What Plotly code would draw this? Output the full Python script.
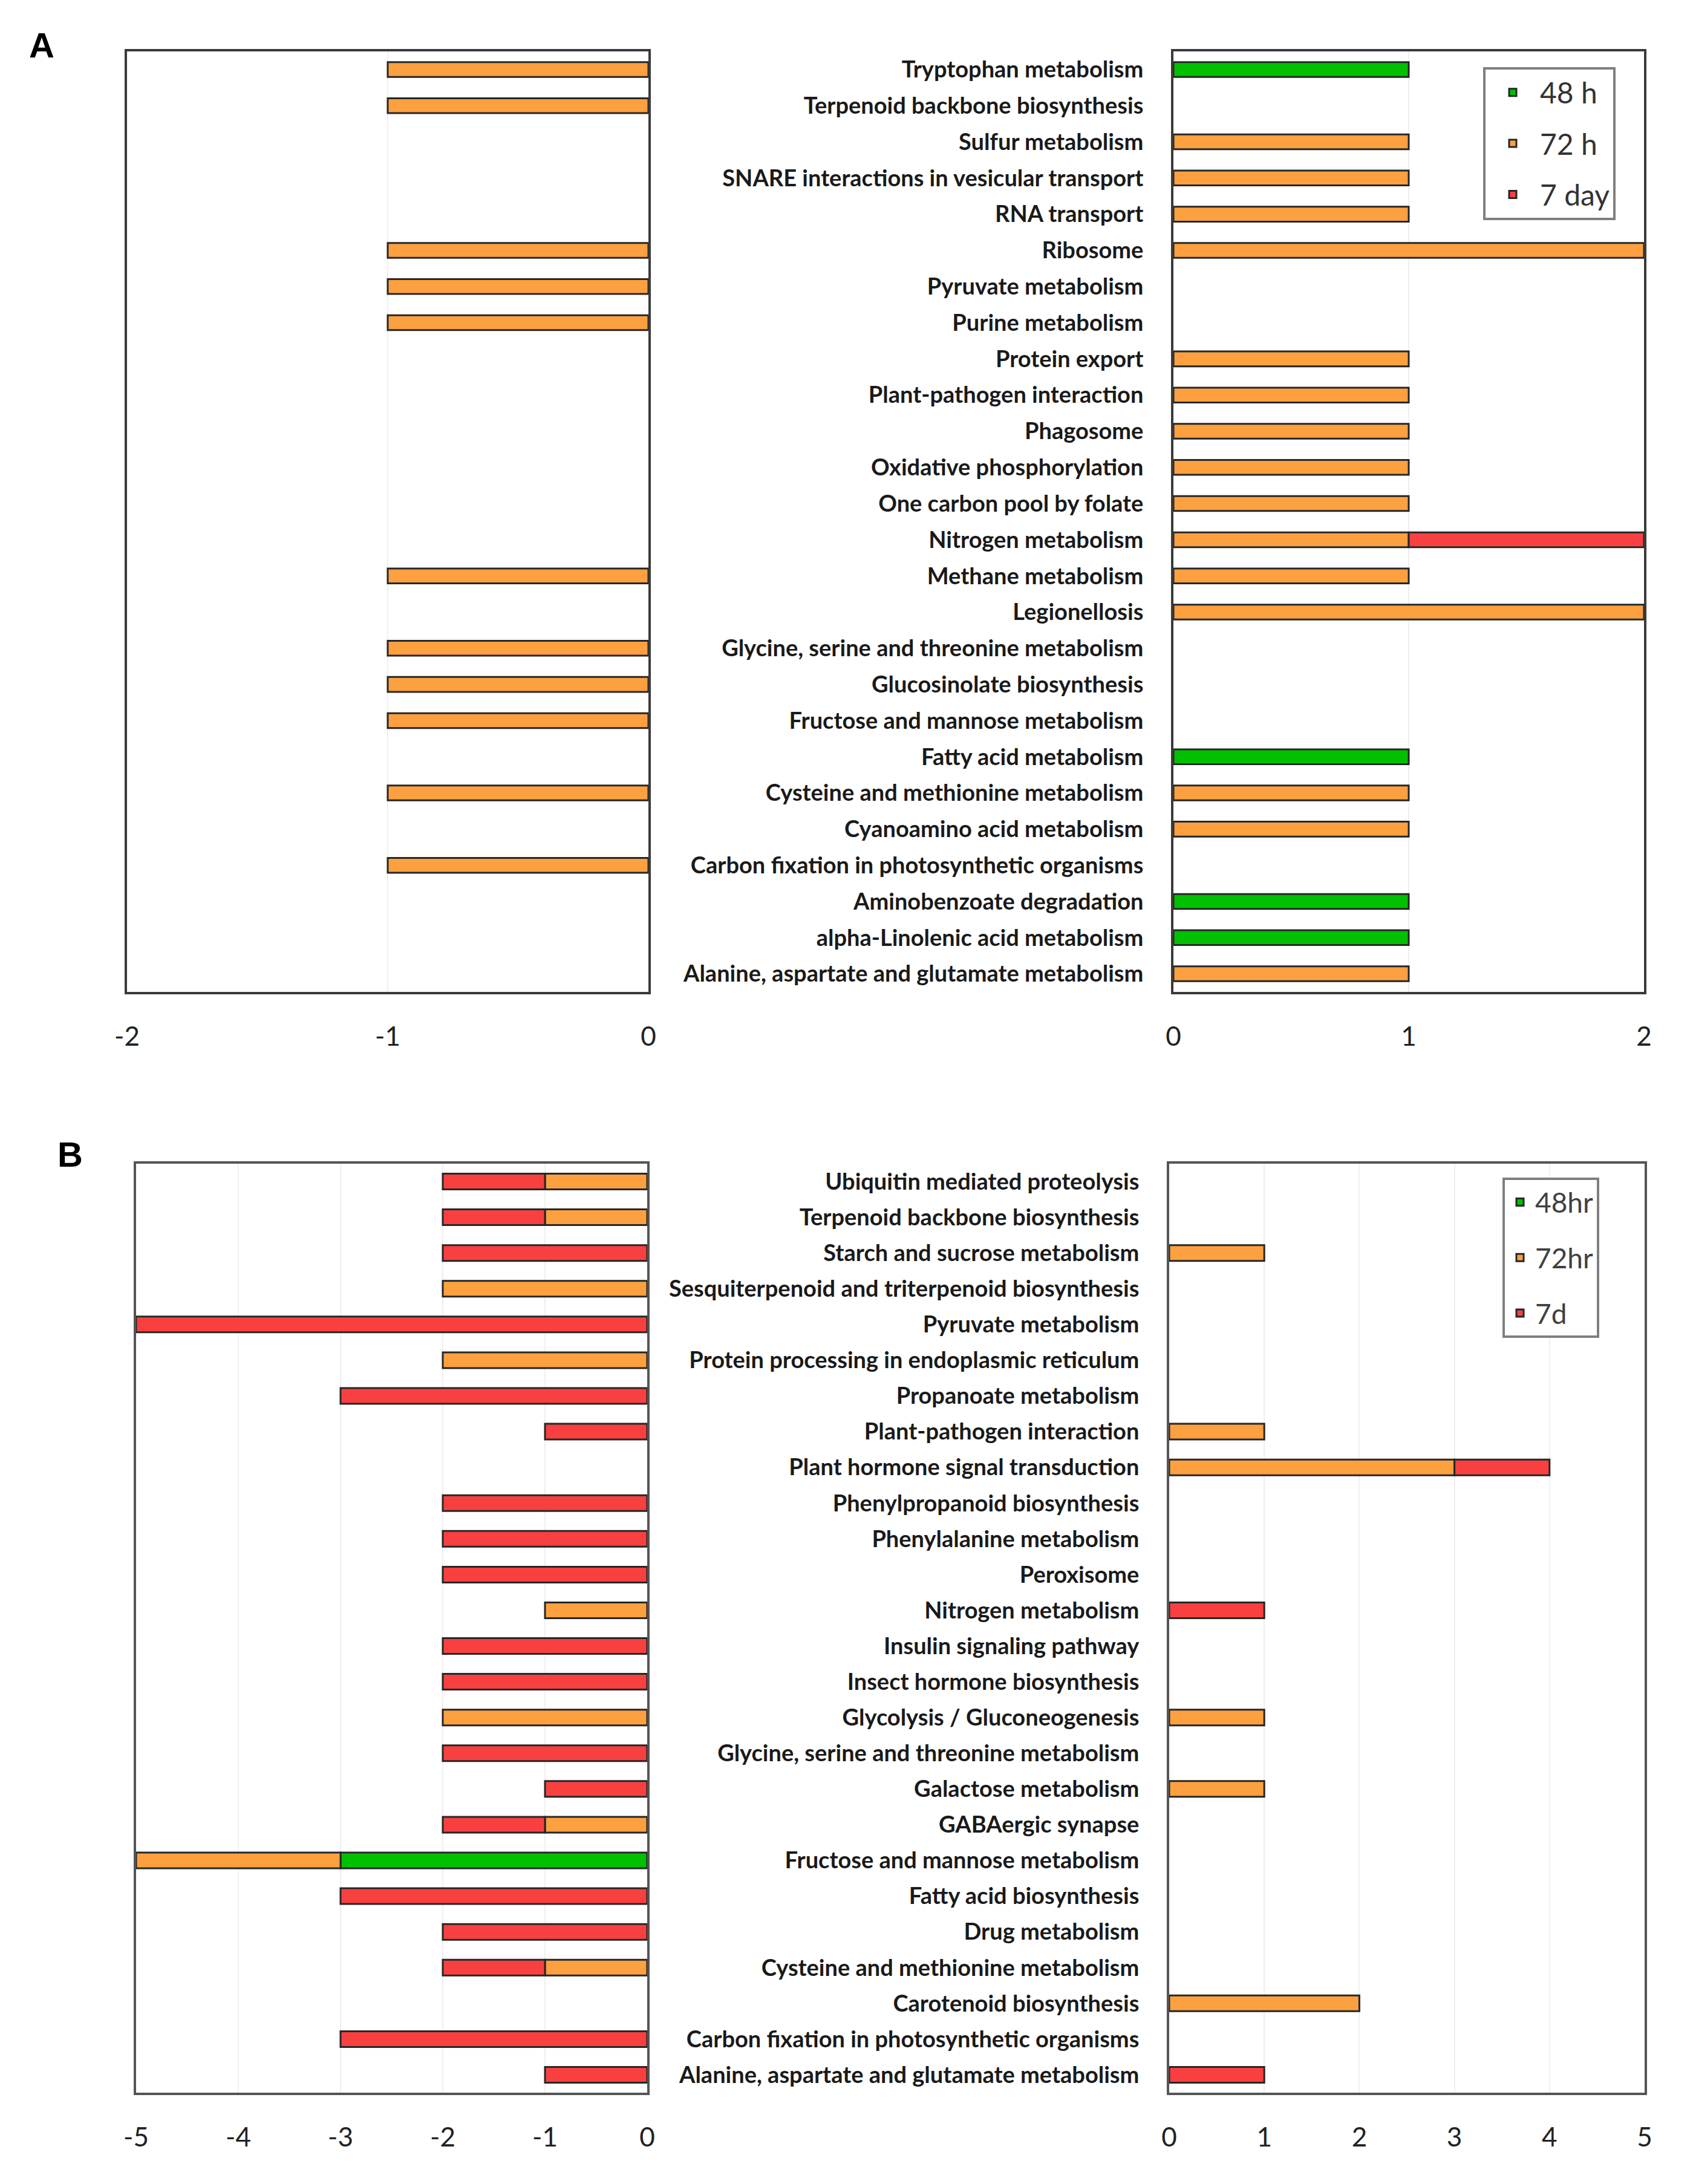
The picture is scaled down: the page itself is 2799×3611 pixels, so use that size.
import plotly.graph_objects as go

W, H = 2799, 3611

# ---------------- Panel A data ----------------
A_pathways = [
    "Tryptophan metabolism", "Terpenoid backbone biosynthesis", "Sulfur metabolism",
    "SNARE interactions in vesicular transport", "RNA transport", "Ribosome",
    "Pyruvate metabolism", "Purine metabolism", "Protein export",
    "Plant-pathogen interaction", "Phagosome", "Oxidative phosphorylation",
    "One carbon pool by folate", "Nitrogen metabolism", "Methane metabolism",
    "Legionellosis", "Glycine, serine and threonine metabolism",
    "Glucosinolate biosynthesis", "Fructose and mannose metabolism",
    "Fatty acid metabolism", "Cysteine and methionine metabolism",
    "Cyanoamino acid metabolism", "Carbon fixation in photosynthetic organisms",
    "Aminobenzoate degradation", "alpha-Linolenic acid metabolism",
    "Alanine, aspartate and glutamate metabolism",
]
A_down_48h = [0] * 26
A_down_72h = [1, 1, 0, 0, 0, 1, 1, 1, 0, 0, 0, 0, 0, 0, 1, 0, 1, 1, 1, 0, 1, 0, 1, 0, 0, 0]
A_down_7d = [0] * 26
A_up_48h = [1, 0, 0, 0, 0, 0, 0, 0, 0, 0, 0, 0, 0, 0, 0, 0, 0, 0, 0, 1, 0, 0, 0, 1, 1, 0]
A_up_72h = [0, 0, 1, 1, 1, 2, 0, 0, 1, 1, 1, 1, 1, 1, 1, 2, 0, 0, 0, 0, 1, 1, 0, 0, 0, 1]
A_up_7d = [0, 0, 0, 0, 0, 0, 0, 0, 0, 0, 0, 0, 0, 1, 0, 0, 0, 0, 0, 0, 0, 0, 0, 0, 0, 0]
A_series = ["48 h", "72 h", "7 day"]
A_left_ticks = [-2, -1, 0]
A_left_ticktext = ["-2", "-1", "0"]
A_right_ticks = [0, 1, 2]

# ---------------- Panel B data ----------------
B_pathways = [
    "Ubiquitin mediated proteolysis", "Terpenoid backbone biosynthesis",
    "Starch and sucrose metabolism", "Sesquiterpenoid and triterpenoid biosynthesis",
    "Pyruvate metabolism", "Protein processing in endoplasmic reticulum",
    "Propanoate metabolism", "Plant-pathogen interaction",
    "Plant hormone signal transduction", "Phenylpropanoid biosynthesis",
    "Phenylalanine metabolism", "Peroxisome", "Nitrogen metabolism",
    "Insulin signaling pathway", "Insect hormone biosynthesis",
    "Glycolysis / Gluconeogenesis", "Glycine, serine and threonine metabolism",
    "Galactose metabolism", "GABAergic synapse", "Fructose and mannose metabolism",
    "Fatty acid biosynthesis", "Drug metabolism", "Cysteine and methionine metabolism",
    "Carotenoid biosynthesis", "Carbon fixation in photosynthetic organisms",
    "Alanine, aspartate and glutamate metabolism",
]
B_down_48h = [0, 0, 0, 0, 0, 0, 0, 0, 0, 0, 0, 0, 0, 0, 0, 0, 0, 0, 0, 3, 0, 0, 0, 0, 0, 0]
B_down_72h = [1, 1, 0, 2, 0, 2, 0, 0, 0, 0, 0, 0, 1, 0, 0, 2, 0, 0, 1, 2, 0, 0, 1, 0, 0, 0]
B_down_7d = [1, 1, 2, 0, 5, 0, 3, 1, 0, 2, 2, 2, 0, 2, 2, 0, 2, 1, 1, 0, 3, 2, 1, 0, 3, 1]
B_up_48h = [0] * 26
B_up_72h = [0, 0, 1, 0, 0, 0, 0, 1, 3, 0, 0, 0, 0, 0, 0, 1, 0, 1, 0, 0, 0, 0, 0, 2, 0, 0]
B_up_7d = [0, 0, 0, 0, 0, 0, 0, 0, 1, 0, 0, 0, 1, 0, 0, 0, 0, 0, 0, 0, 0, 0, 0, 0, 0, 1]
B_series = ["48hr", "72hr", "7d"]
B_left_ticks = [-5, -4, -3, -2, -1, 0]
B_left_ticktext = ["-5", "-4", "-3", "-2", "-1", "0"]
B_right_ticks = [0, 1, 2, 3, 4, 5]

COLORS = ["#00C000", "#FCA040", "#F84040"]
EDGE = "#262626"
LABEL_FONT = "Lato"


def px_x(p):
    return p / W


def px_y(p):
    return 1 - p / H


fig = go.Figure()


def add_panel(cats, downs, ups, names, xl, yl, xr, yr, legend, barw, legend_from):
    for i, (d, u, nm) in enumerate(zip(downs, ups, names)):
        dvals = [-v if v else None for v in d]
        uvals = [v if v else None for v in u]
        show_left = legend_from[i] == "left"
        fig.add_trace(go.Bar(
            y=cats, x=dvals, orientation="h", name=nm, xaxis=xl, yaxis=yl,
            marker=dict(color=COLORS[i], line=dict(color=EDGE, width=3)),
            width=barw, legend=legend, legendgroup=legend + nm,
            showlegend=show_left, hoverinfo="x+y",
        ))
        fig.add_trace(go.Bar(
            y=cats, x=uvals, orientation="h", name=nm, xaxis=xr, yaxis=yr,
            marker=dict(color=COLORS[i], line=dict(color=EDGE, width=3)),
            width=barw, legend=legend, legendgroup=legend + nm,
            showlegend=not show_left, hoverinfo="x+y",
        ))


add_panel(A_pathways, [A_down_48h, A_down_72h, A_down_7d], [A_up_48h, A_up_72h, A_up_7d],
          A_series, "x", "y", "x2", "y2", "legend", 0.41, ["right", "right", "right"])
add_panel(B_pathways, [B_down_48h, B_down_72h, B_down_7d], [B_up_48h, B_up_72h, B_up_7d],
          B_series, "x3", "y3", "x4", "y4", "legend2", 0.44, ["left", "right", "right"])

tickfont = dict(family=LABEL_FONT, size=44, color="#222222")
catfont = dict(family=LABEL_FONT, size=38, color="#1a1a1a", weight="bold")


def xax(dom, rng, tv, tt, anchor, linecolor):
    return dict(domain=dom, range=rng, tickvals=tv, ticktext=tt, anchor=anchor,
                showgrid=True, gridcolor="#efefef", gridwidth=2, zeroline=False,
                showline=True, linecolor=linecolor, linewidth=4, mirror=True,
                ticks="", tickfont=tickfont, ticklabelstandoff=32, fixedrange=True,
                automargin=False)


def yax(dom, cats, anchor, labels, linecolor):
    return dict(domain=dom, type="category", categoryorder="array", categoryarray=cats,
                autorange="reversed", anchor=anchor, showgrid=False, zeroline=False,
                showline=True, linecolor=linecolor, linewidth=4, mirror=True,
                ticks="", showticklabels=labels, tickfont=catfont,
                ticklabelstandoff=38, fixedrange=True, automargin=False)


A_y = [px_y(1640), px_y(85)]
B_y = [px_y(3460), px_y(1924)]

fig.update_layout(
    width=W, height=H, margin=dict(l=0, r=0, t=0, b=0, autoexpand=False),
    paper_bgcolor="white", plot_bgcolor="white",
    barmode="relative", font=dict(family=LABEL_FONT),
    xaxis=xax([px_x(210), px_x(1072)], [-2, 0], A_left_ticks, A_left_ticktext, "y", "#3a3a3a"),
    yaxis=yax(A_y, A_pathways, "x", False, "#3a3a3a"),
    xaxis2=xax([px_x(1940), px_x(2718)], [0, 2], A_right_ticks, [str(v) for v in A_right_ticks], "y2", "#3a3a3a"),
    yaxis2=yax(A_y, A_pathways, "x2", True, "#3a3a3a"),
    xaxis3=xax([px_x(225), px_x(1070)], [-5, 0], B_left_ticks, B_left_ticktext, "y3", "#555555"),
    yaxis3=yax(B_y, B_pathways, "x3", False, "#555555"),
    xaxis4=xax([px_x(1933), px_x(2719)], [0, 5], B_right_ticks, [str(v) for v in B_right_ticks], "y4", "#555555"),
    yaxis4=yax(B_y, B_pathways, "x4", True, "#555555"),
    legend=dict(x=px_x(2452), y=px_y(111), xanchor="left", yanchor="top",
                bordercolor="#7f7f7f", borderwidth=4, bgcolor="white",
                font=dict(family=LABEL_FONT, size=48, color="#333333"),
                traceorder="grouped", tracegroupgap=19, itemwidth=80),
    legend2=dict(x=px_x(2484), y=px_y(1947), xanchor="left", yanchor="top",
                 bordercolor="#7f7f7f", borderwidth=4, bgcolor="white",
                 font=dict(family=LABEL_FONT, size=46, color="#404040"),
                 traceorder="grouped", tracegroupgap=29, itemwidth=40),
    annotations=[
        dict(text="<b>A</b>", x=px_x(69), y=px_y(74), xref="paper", yref="paper",
             xanchor="center", yanchor="middle",
             showarrow=False, font=dict(family="Liberation Sans", size=58, color="black")),
        dict(text="<b>B</b>", x=px_x(116), y=px_y(1908), xref="paper", yref="paper",
             xanchor="center", yanchor="middle",
             showarrow=False, font=dict(family="Liberation Sans", size=58, color="black")),
    ],
)

fig.write_html("out.html", config={"displayModeBar": False},
               post_script="document.body.style.margin='0';")
